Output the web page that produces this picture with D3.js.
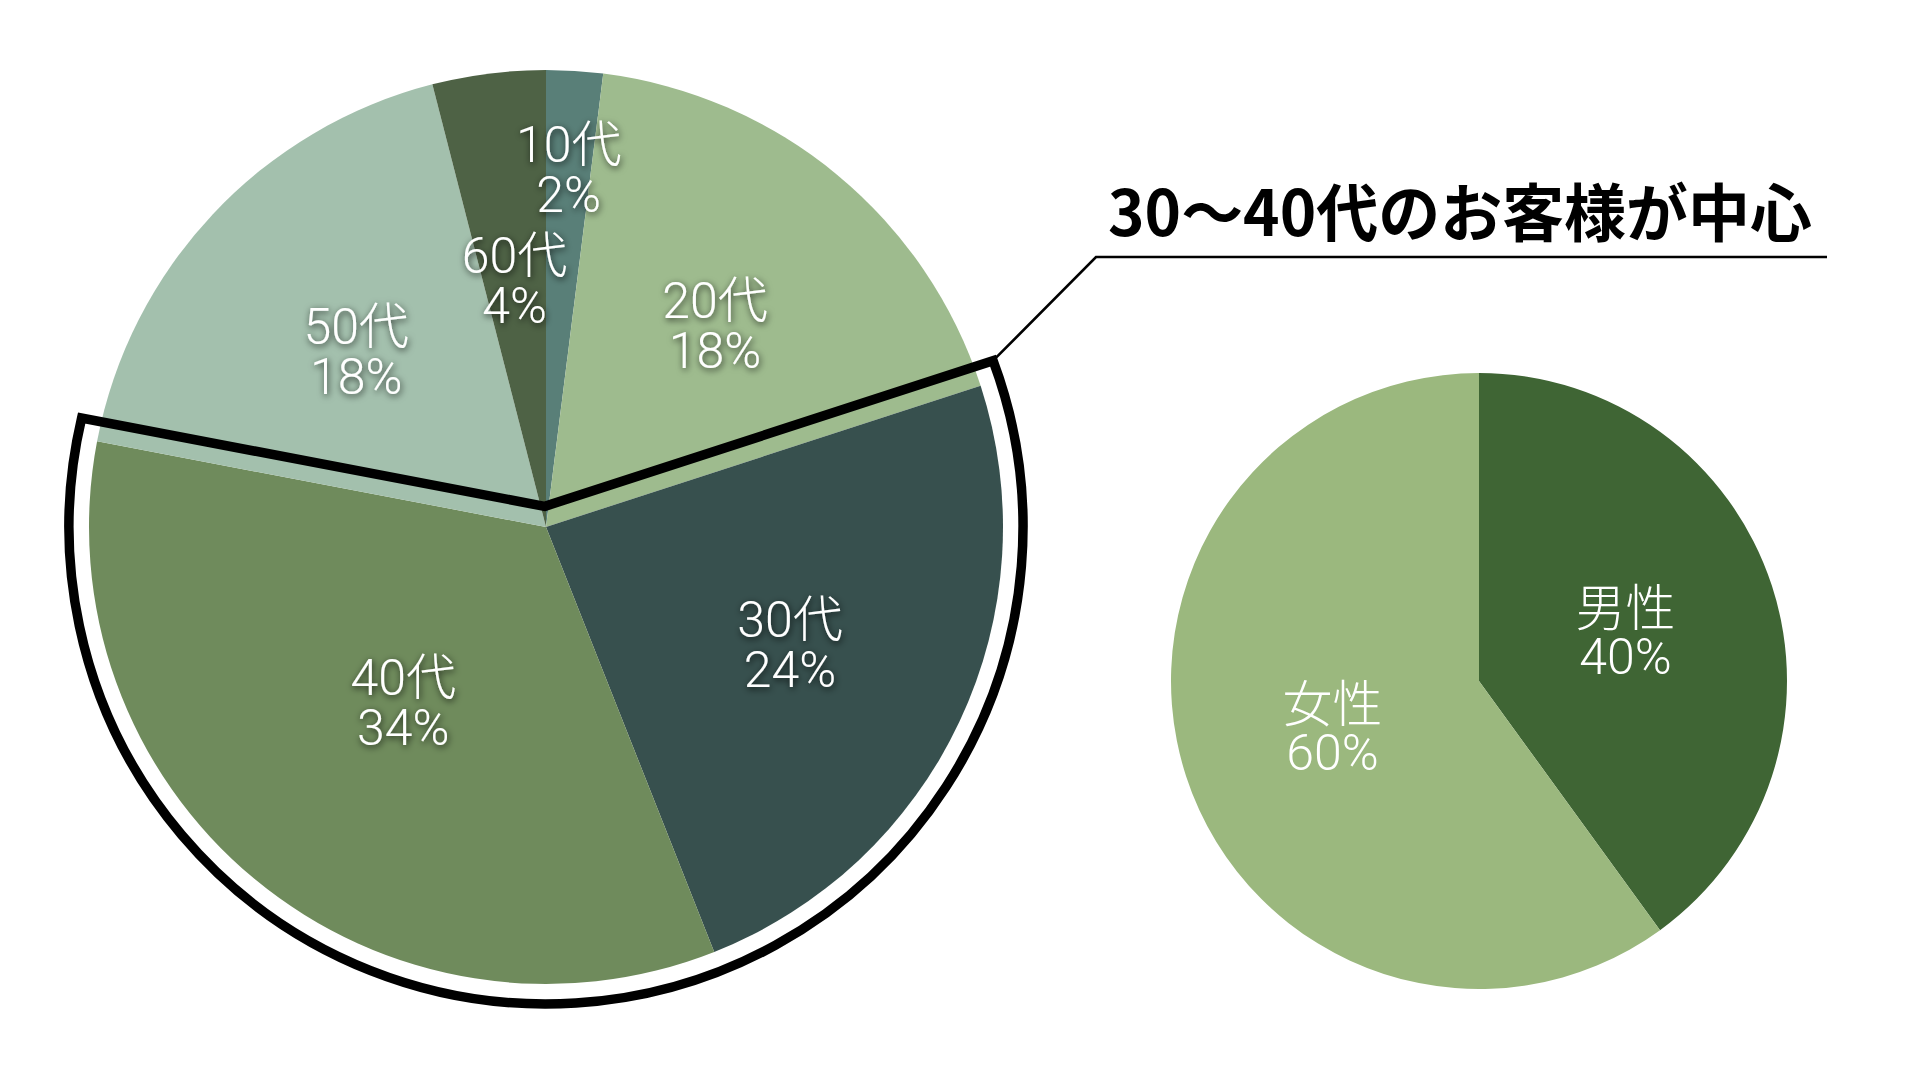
<!DOCTYPE html>
<html>
<head>
<meta charset="utf-8">
<script src="https://cdn.jsdelivr.net/npm/d3@7/dist/d3.min.js"></script>
<style>
  html, body { margin: 0; padding: 0; background: #ffffff; }
  svg { display: block; }
  text { font-family: "Noto Sans CJK JP", "Noto Sans", sans-serif; }
  .lbl { font-family: "Roboto", "Noto Sans CJK JP", sans-serif; font-weight: 300; }
</style>
</head>
<body>
<svg id="chart" width="1920" height="1080"></svg>
<script>
// ---- data ----
const ageCategories = ["10代", "20代", "30代", "40代", "50代", "60代"];
const ageValues = [2, 18, 24, 34, 18, 4];
const highlightCategories = ["30代", "40代"];
const genderCategories = ["男性", "女性"];
const genderValues = [40, 60];
const titleText = "30～40代のお客様が中心";

// ---- styling / layout ----
const ageColors = ["#597f78", "#9ebb8e", "#37504e", "#6f8b5c", "#a3c0ad", "#4e6245"];
const genderColors = ["#3f6534", "#9bb87e"];
const ageLabelRadius = { "10代": 0.79, "20代": 0.58, "30代": 0.59, "40代": 0.49, "50代": 0.57, "60代": 0.55 };

const svg = d3.select("#chart");
const defs = svg.append("defs");
const f = defs.append("filter").attr("id", "glow")
  .attr("x", "-30%").attr("y", "-30%").attr("width", "160%").attr("height", "160%");
f.append("feDropShadow").attr("dx", 1).attr("dy", 2).attr("stdDeviation", 3.5)
  .attr("flood-color", "#000").attr("flood-opacity", 0.8);

// ---- left pie (ages) ----
const L = { cx: 546, cy: 527, r: 457 };
const agePie = d3.pie().sort(null).value(d => d.v);
const ageData = agePie(ageCategories.map((c, i) => ({ c, v: ageValues[i], color: ageColors[i] })));
const ageArc = d3.arc().innerRadius(0).outerRadius(L.r);

const gL = svg.append("g").attr("transform", `translate(${L.cx},${L.cy})`);
gL.selectAll("path.slice").data(ageData).join("path")
  .attr("class", "slice")
  .attr("d", ageArc)
  .attr("fill", d => d.data.color);

// highlight outline around 30代 + 40代
const hl = ageData.filter(d => highlightCategories.includes(d.data.c));
const a0 = d3.min(hl, d => d.startAngle);
const a1 = d3.max(hl, d => d.endAngle);
const off = 20, R = 477;
const u = a => [Math.sin(a), -Math.cos(a)];
const t = Math.sqrt(R * R - off * off);
const n0 = u(a0 - Math.PI / 2), d0 = u(a0);
const n1 = u(a1 + Math.PI / 2), d1 = u(a1);
const c0 = [off * n0[0] + t * d0[0], off * n0[1] + t * d0[1]];
const c1 = [off * n1[0] + t * d1[0], off * n1[1] + t * d1[1]];
const outerHalf = (2 * Math.PI - (a1 - a0)) / 2;
const apexAng = a1 + outerHalf;
const apexDist = off / Math.sin(outerHalf);
const apex = [apexDist * Math.sin(apexAng), -apexDist * Math.cos(apexAng)];
const op = d3.path();
op.moveTo(apex[0], apex[1]);
op.lineTo(c0[0], c0[1]);
op.arc(0, 0, R, Math.atan2(c0[1], c0[0]), Math.atan2(c1[1], c1[0]), false);
op.closePath();
gL.append("path").attr("d", op.toString())
  .attr("fill", "none").attr("stroke", "#000").attr("stroke-width", 9.5)
  .attr("stroke-linejoin", "miter");

// labels
const lblG = gL.append("g").attr("filter", "url(#glow)");
ageData.forEach(d => {
  const k = ageLabelRadius[d.data.c] * L.r;
  const [x, y] = d3.arc().innerRadius(k).outerRadius(k).centroid(d);
  const tx = lblG.append("text").attr("class", "lbl").attr("text-anchor", "middle")
    .attr("fill", "#fff").attr("font-size", 50);
  tx.append("tspan").attr("x", x).attr("y", y - 22).attr("dominant-baseline", "central").text(d.data.c);
  tx.append("tspan").attr("x", x).attr("y", y + 28).attr("dominant-baseline", "central").text(d.data.v + "%");
});

// ---- callout + title ----
const cStart = [L.cx + c0[0], L.cy + c0[1]];
const elbow = [1096, 257];
svg.append("path")
  .attr("d", d3.line()([cStart, elbow, [1827, 257]]))
  .attr("fill", "none").attr("stroke", "#000").attr("stroke-width", 2.6);
const title = svg.append("text")
  .attr("x", 1108).attr("y", 236)
  .attr("font-size", 63).attr("font-weight", 700).attr("fill", "#000")
  .text(titleText);
const tl = title.node().getComputedTextLength();
if (Math.abs(tl - 704) > 4) title.attr("textLength", 704).attr("lengthAdjust", "spacingAndGlyphs");

// ---- right pie (gender) ----
const Rg = { cx: 1479, cy: 681, r: 308 };
const gPie = d3.pie().sort(null).value(d => d.v);
const gData = gPie(genderCategories.map((c, i) => ({ c, v: genderValues[i], color: genderColors[i] })));
const gArc = d3.arc().innerRadius(0).outerRadius(Rg.r);
const gR = svg.append("g").attr("transform", `translate(${Rg.cx},${Rg.cy})`);
gR.selectAll("path").data(gData).join("path")
  .attr("d", gArc).attr("fill", d => d.data.color);
gData.forEach(d => {
  const k = 0.5 * Rg.r;
  const [x, y] = d3.arc().innerRadius(k).outerRadius(k).centroid(d);
  const tx = gR.append("text").attr("class", "lbl").attr("text-anchor", "middle")
    .attr("fill", "#fff").attr("font-size", 50);
  tx.append("tspan").attr("x", x).attr("y", y - 24).attr("dominant-baseline", "central").text(d.data.c);
  tx.append("tspan").attr("x", x).attr("y", y + 24).attr("dominant-baseline", "central").text(d.data.v + "%");
});
</script>
</body>
</html>
